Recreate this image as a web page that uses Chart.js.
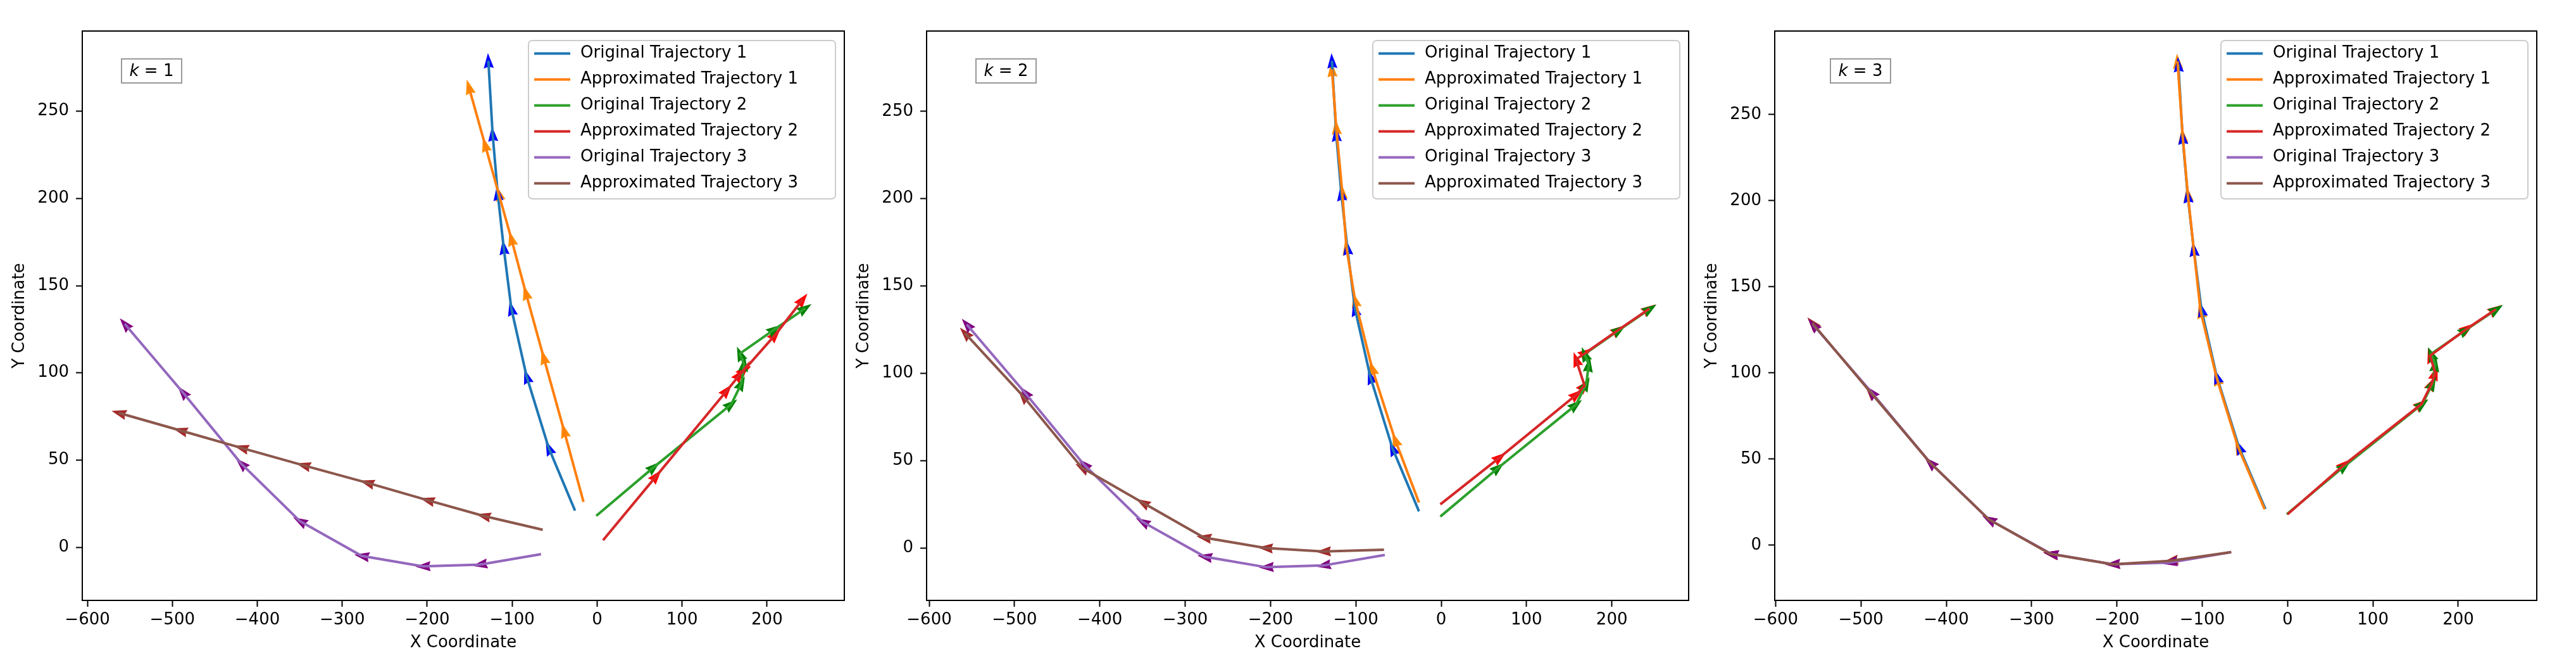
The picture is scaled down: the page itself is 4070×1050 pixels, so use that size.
<!DOCTYPE html>
<html lang="en">
<head>
<meta charset="UTF-8">
<title>Original vs approximated trajectories, k = 1, 2, 3</title>
<script src="https://cdn.jsdelivr.net/npm/chart.js"></script>
<style>
    html, body { margin: 0; padding: 0; background: #fff; }
    body { width: 4070px; height: 1050px; position: relative; overflow: hidden; }
    .panel { position: absolute; top: 0; width: 1344px; height: 1050px; }
    .panel canvas { display: block; }
</style>
</head>
<body>
<div class="panel" id="p0"><canvas id="c0" width="1344" height="1050"></canvas></div>
<div class="panel" id="p1"><canvas id="c1" width="1344" height="1050"></canvas></div>
<div class="panel" id="p2"><canvas id="c2" width="1344" height="1050"></canvas></div>

<script>
// ---- data ----
const kValues = [1, 2, 3];
const seriesLabels = ["Original Trajectory 1", "Approximated Trajectory 1",
                      "Original Trajectory 2", "Approximated Trajectory 2",
                      "Original Trajectory 3", "Approximated Trajectory 3"];

// original trajectories (same in every panel)
const orig1X = [-26, -57, -83, -101, -110, -117, -123, -128];
const orig1Y = [21, 57, 98, 137, 172, 203, 237, 279];
const orig2X = [-1, 67, 158, 170, 173, 168, 209, 245];
const orig2Y = [18, 46, 82, 94, 105, 111, 125, 137];
const orig3X = [-66, -138, -205, -277, -350, -419, -488, -556];
const orig3Y = [-4, -10, -11, -5, 15, 48, 89, 128];

// approximations, one row per k
const approx1X = [[-16, -39, -63, -84, -101, -116, -132, -151],
                  [-26, -54, -81, -101, -111, -116, -123, -128],
                  [-27, -58, -83, -102, -110, -117, -123, -129]];
const approx1Y = [[26, 67, 109, 146, 177, 203, 231, 264],
                  [26, 62, 103, 142, 172, 204, 241, 274],
                  [21, 57, 97, 136, 172, 204, 238, 281]];
const approx2X = [[7, 70, 153, 168, 173, 172, 210, 242],
                  [-1, 69, 159, 168, 158, 170, 208, 244],
                  [0, 67, 157, 169, 173, 167, 211, 244]];
const approx2Y = [[4, 41, 90, 99, 102, 101, 122, 142],
                  [25, 52, 88, 93, 108, 112, 125, 137],
                  [18, 47, 82, 94, 100, 110, 126, 137]];
const approx3X = [[-64, -134, -200, -271, -346, -419, -491, -563],
                  [-67, -138, -206, -278, -350, -421, -490, -558],
                  [-66, -137, -205, -278, -350, -419, -489, -557]];
const approx3Y = [[10, 18, 27, 37, 47, 57, 67, 77],
                  [-1, -2, 0, 6, 26, 46, 87, 123],
                  [-4, -9, -11, -5, 15, 48, 89, 129]];

// axis limits per panel and tick labels
const xMin = [-606, -603, -601];
const xMax = [291, 290, 292];
const yMin = [-30.5, -30, -32];
const yMax = [296, 296, 298.5];
const xTicks = [-600, -500, -400, -300, -200, -100, 0, 100, 200];
const yTicks = [0, 50, 100, 150, 200, 250];

// ---- styles ----
const lineColors = ["#1f77b4", "#ff7f0e", "#2ca02c", "#d62728", "#9467bd", "#8c564b"];
const headColors = ["#0000ff", "#ff8c00", "#008000", "#ff0000", "#800080", "#a52a2a"];
const panelLeft = [130, 1464, 2804];   // left edge of each plot area
const kBoxOffset = [62, 78, 88];
const FONT = "DejaVu Sans";

Chart.defaults.font.family = FONT;

function pts(xs, ys) {
    return xs.map((x, i) => ({ x: x, y: ys[i] }));
}

function minusSign(v) {
    return String(v).replace("-", "\u2212");
}

// arrow head like a short matplotlib quiver arrow
function drawHead(ctx, x, y, a) {
    const L = 24, W = 8, N = 2.5;
    const c = Math.cos(a), s = Math.sin(a);
    const tx = x + c * L * 0.5, ty = y + s * L * 0.5;
    const bx = x - c * L * 0.5, by = y - s * L * 0.5;
    const nx = -s, ny = c;
    ctx.beginPath();
    ctx.moveTo(tx, ty);
    ctx.lineTo(bx + nx * W, by + ny * W);
    ctx.lineTo(bx + c * N, by + s * N);
    ctx.lineTo(bx - nx * W, by - ny * W);
    ctx.closePath();
    ctx.fill();
}

const quiverPlugin = {
    id: "quiverHeads",
    beforeDatasetsDraw(chart) {
        const ctx = chart.ctx, area = chart.chartArea;
        const xs = chart.scales.x, ys = chart.scales.y;
        ctx.save();
        ctx.beginPath();
        ctx.rect(area.left, area.top, area.right - area.left, area.bottom - area.top);
        ctx.clip();
        // approximated heads first, original heads on top of them
        [1, 3, 5, 0, 2, 4].forEach(i => {
            const data = chart.data.datasets[i].data;
            ctx.fillStyle = headColors[i];
            for (let j = 1; j < data.length; j++) {
                const x0 = xs.getPixelForValue(data[j - 1].x), y0 = ys.getPixelForValue(data[j - 1].y);
                const x1 = xs.getPixelForValue(data[j].x), y1 = ys.getPixelForValue(data[j].y);
                drawHead(ctx, x1, y1, Math.atan2(y1 - y0, x1 - x0));
            }
        });
        ctx.restore();
    }
};

const framePlugin = {
    id: "frameLegend",
    afterDatasetsDraw(chart) {
        const ctx = chart.ctx, a = chart.chartArea;
        ctx.save();
        ctx.strokeStyle = "#000";
        ctx.lineWidth = 2;
        ctx.strokeRect(a.left, a.top, a.right - a.left, a.bottom - a.top);
        ctx.restore();
    },
    afterDraw(chart, args, opts) {
        const ctx = chart.ctx, a = chart.chartArea;
        ctx.save();
        // legend box, upper right
        const lw = 485, lh = 250;
        const lx = a.right - 14 - lw, ly = a.top + 15;
        ctx.beginPath();
        ctx.roundRect(lx, ly, lw, lh, 6);
        ctx.fillStyle = "rgba(255,255,255,0.8)";
        ctx.fill();
        ctx.strokeStyle = "#cccccc";
        ctx.lineWidth = 2;
        ctx.stroke();
        ctx.font = "26px '" + FONT + "'";
        ctx.textBaseline = "middle";
        ctx.textAlign = "left";
        chart.data.datasets.forEach((ds, i) => {
            const ry = ly + 20.5 + i * 41;
            ctx.strokeStyle = ds.borderColor;
            ctx.lineWidth = 4;
            ctx.beginPath();
            ctx.moveTo(lx + 9, ry);
            ctx.lineTo(lx + 66, ry);
            ctx.stroke();
            ctx.fillStyle = "#000";
            ctx.fillText(ds.label, lx + 82, ry);
        });
        // "k = n" box
        const bx = a.left + opts.boxOffset, by = a.top + 44, bw = 95, bh = 38;
        ctx.fillStyle = "#fff";
        ctx.fillRect(bx, by, bw, bh);
        ctx.strokeStyle = "#999999";
        ctx.lineWidth = 2;
        ctx.strokeRect(bx, by, bw, bh);
        const italic = "italic 26px '" + FONT + "'", upright = "26px '" + FONT + "'";
        const rest = " = " + opts.k;
        ctx.font = italic;
        const wk = ctx.measureText("k").width;
        ctx.font = upright;
        const wr = ctx.measureText(rest).width;
        const tx = bx + (bw - wk - wr) / 2;
        const ty = by + bh / 2 + 1;
        ctx.fillStyle = "#000";
        ctx.font = italic;
        ctx.fillText("k", tx, ty);
        ctx.font = upright;
        ctx.fillText(rest, tx + wk, ty);
        ctx.restore();
    }
};

function axisStyle(title, tickValues, min, max, isX) {
    return {
        type: "linear",
        position: isX ? "bottom" : "left",
        min: min,
        max: max,
        afterBuildTicks: s => { s.ticks = tickValues.map(v => ({ value: v })); },
        afterFit: s => { if (isX) s.height = 102; else s.width = 130; },
        border: { display: true, color: "#000", width: 2 },
        grid: { display: true, drawOnChartArea: false, drawTicks: true,
                tickLength: 10, tickWidth: 2, tickColor: "#000" },
        ticks: { autoSkip: false, maxRotation: 0,
                 color: "#000", font: { size: 26 }, padding: isX ? 6 : 11,
                 callback: v => minusSign(v) },
        title: { display: true, text: title, color: "#000", font: { size: 26 },
                 padding: isX ? { top: 4, bottom: 19 } : { top: 16, bottom: 4 } }
    };
}

kValues.forEach((k, p) => {
    document.getElementById("p" + p).style.left = (panelLeft[p] - 130) + "px";
    const series = [
        pts(orig1X, orig1Y), pts(approx1X[p], approx1Y[p]),
        pts(orig2X, orig2Y), pts(approx2X[p], approx2Y[p]),
        pts(orig3X, orig3Y), pts(approx3X[p], approx3Y[p])
    ];
    new Chart(document.getElementById("c" + p), {
        type: "scatter",
        data: {
            datasets: series.map((d, i) => ({
                label: seriesLabels[i],
                data: d,
                showLine: true,
                borderColor: lineColors[i],
                backgroundColor: lineColors[i],
                borderWidth: 4,
                pointRadius: 0,
                tension: 0,
                order: 5 - i
            }))
        },
        options: {
            responsive: false,
            devicePixelRatio: 1,
            animation: false,
            layout: { padding: { top: 49, right: 10, left: 0, bottom: 0 } },
            plugins: {
                legend: { display: false },
                tooltip: { enabled: false },
                frameLegend: { k: k, boxOffset: kBoxOffset[p] }
            },
            scales: {
                x: axisStyle("X Coordinate", xTicks, xMin[p], xMax[p], true),
                y: axisStyle("Y Coordinate", yTicks, yMin[p], yMax[p], false)
            }
        },
        plugins: [quiverPlugin, framePlugin]
    });
});
</script>
</body>
</html>
